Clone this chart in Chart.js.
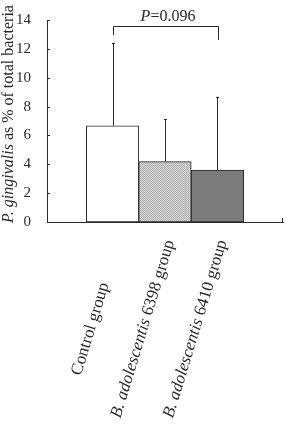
<!DOCTYPE html>
<html>
<head>
<meta charset="utf-8">
<script src="https://cdn.jsdelivr.net/npm/chart.js@4/dist/chart.umd.min.js"></script>
<style>
  html, body { margin: 0; padding: 0; background: #fff; }
  #wrap { width: 286px; height: 437px; position: relative; }
</style>
</head>
<body>
<div id="wrap"><canvas id="c"></canvas></div>
<script>
// ---- data ----
const categories = ['Control group', 'B. adolescentis 6398 group', 'B. adolescentis 6410 group'];
const italicParts = ['', 'B. adolescentis', 'B. adolescentis'];
const means = [6.67, 4.18, 3.6];
const sds = [5.76, 2.94, 5.08];
const yTicks = [0, 2, 4, 6, 8, 10, 12, 14];
const yTitleItalic = 'P. gingivalis';
const yTitleRest = ' as % of total bacteria';
const pLabelItalic = 'P';
const pLabelRest = '=0.096';
const bracket = { from: 0, to: 2, top: 13.6, leftEnd: 12.96, rightEnd: 12.61 };

const SERIF = '"Liberation Serif", "Times New Roman", serif';
const INK = '#2a2a2a';

function makePattern() {
  const p = document.createElement('canvas');
  p.width = 2; p.height = 2;
  const g = p.getContext('2d');
  g.fillStyle = '#d2d2d2'; g.fillRect(0, 0, 2, 2);
  g.fillStyle = '#b4b4b4'; g.fillRect(0, 0, 1, 1); g.fillRect(1, 1, 1, 1);
  return g.createPattern(p, 'repeat');
}
const ctxMain = document.getElementById('c').getContext('2d');
const fills = ['#ffffff', makePattern(), '#7b7b7b'];

function drawRich(ctx, parts, size) {
  let total = 0;
  const widths = parts.map(p => {
    ctx.font = (p.italic ? 'italic ' : '') + size + 'px ' + SERIF;
    const w = ctx.measureText(p.t).width;
    total += w;
    return w;
  });
  let x = -total / 2;
  parts.forEach((p, i) => {
    ctx.font = (p.italic ? 'italic ' : '') + size + 'px ' + SERIF;
    ctx.textAlign = 'left';
    ctx.fillText(p.t, x, 0);
    x += widths[i];
  });
}

function splitLabel(label, ital) {
  if (ital && label.startsWith(ital)) {
    return [{ t: ital, italic: true }, { t: label.slice(ital.length), italic: false }];
  }
  return [{ t: label, italic: false }];
}

const extras = {
  id: 'extras',
  afterDatasetsDraw(chart) {
    const ctx = chart.ctx;
    const ys = chart.scales.y;
    const meta = chart.getDatasetMeta(0);
    const area = chart.chartArea;
    ctx.save();
    ctx.strokeStyle = INK;
    ctx.lineWidth = 1;
    // error bars
    meta.data.forEach((bar, i) => {
      const x = Math.round(bar.x) + 0.5;
      const yTop = ys.getPixelForValue(means[i] + sds[i]);
      ctx.beginPath();
      ctx.moveTo(x, bar.y);
      ctx.lineTo(x, yTop);
      ctx.moveTo(x - 1.5, Math.round(yTop) + 0.5);
      ctx.lineTo(x + 1.5, Math.round(yTop) + 0.5);
      ctx.stroke();
    });
    // bracket
    const xl = Math.round(meta.data[bracket.from].x) + 0.5;
    const xr = Math.round(meta.data[bracket.to].x) + 1.5;
    const yt = Math.round(ys.getPixelForValue(bracket.top)) + 0.5;
    ctx.beginPath();
    ctx.moveTo(xl, ys.getPixelForValue(bracket.leftEnd));
    ctx.lineTo(xl, yt);
    ctx.lineTo(xr, yt);
    ctx.lineTo(xr, ys.getPixelForValue(bracket.rightEnd));
    ctx.stroke();
    ctx.fillStyle = INK;
    ctx.save();
    ctx.translate((xl + xr) / 2 + 2, yt - 6);
    drawRich(ctx, [{ t: pLabelItalic, italic: true }, { t: pLabelRest, italic: false }], 16);
    ctx.restore();
    // y ticks (inward)
    yTicks.forEach(v => {
      const y = Math.round(ys.getPixelForValue(v)) + 0.5;
      ctx.beginPath();
      ctx.moveTo(area.left, y);
      ctx.lineTo(area.left + 3, y);
      ctx.stroke();
    });
    // x axis end tick
    ctx.beginPath();
    ctx.moveTo(area.right - 0.5, area.bottom);
    ctx.lineTo(area.right - 0.5, area.bottom - 4);
    ctx.stroke();
    // x category labels (rotated, centered)
    const xs = chart.scales.x;
    categories.forEach((lab, i) => {
      const cx = xs.getPixelForValue(i) - 22;
      const cy = 329;
      ctx.save();
      ctx.translate(cx, cy);
      ctx.rotate(-73 * Math.PI / 180);
      ctx.textBaseline = 'middle';
      drawRich(ctx, splitLabel(lab, italicParts[i]), 17);
      ctx.restore();
    });
    // y title
    ctx.save();
    ctx.translate(9, 114);
    ctx.rotate(-Math.PI / 2);
    ctx.textBaseline = 'middle';
    drawRich(ctx, [{ t: yTitleItalic, italic: true }, { t: yTitleRest, italic: false }], 16);
    ctx.restore();
    ctx.restore();
  }
};

new Chart(ctxMain, {
  type: 'bar',
  data: {
    datasets: [{
      data: means.map((m, i) => ({ x: i, y: m })),
      backgroundColor: fills,
      borderColor: INK,
      borderWidth: 1,
      borderSkipped: false,
      barPercentage: 1,
      categoryPercentage: 1
    }]
  },
  options: {
    responsive: true,
    maintainAspectRatio: false,
    animation: false,
    events: [],
    layout: { padding: { top: 20, right: 3, left: 0, bottom: 0 } },
    plugins: { legend: { display: false }, tooltip: { enabled: false } },
    scales: {
      x: {
        type: 'linear',
        bounds: 'data',
        offset: false,
        min: -1.25,
        max: 3.25,
        afterBuildTicks(scale) { scale.ticks = categories.map((c, i) => ({ value: i })); },
        ticks: { display: false },
        grid: { display: false },
        border: { display: true, color: INK, width: 1 },
        afterFit(scale) { scale.height = 215; }
      },
      y: {
        min: 0,
        max: 14,
        afterBuildTicks(scale) { scale.ticks = yTicks.map(v => ({ value: v })); },
        ticks: { font: { family: SERIF, size: 15 }, color: INK, padding: 8 },
        grid: { display: false },
        border: { display: true, color: INK, width: 1 },
        afterFit(scale) { scale.width = 47; }
      }
    }
  },
  plugins: [extras]
});
</script>
</body>
</html>
